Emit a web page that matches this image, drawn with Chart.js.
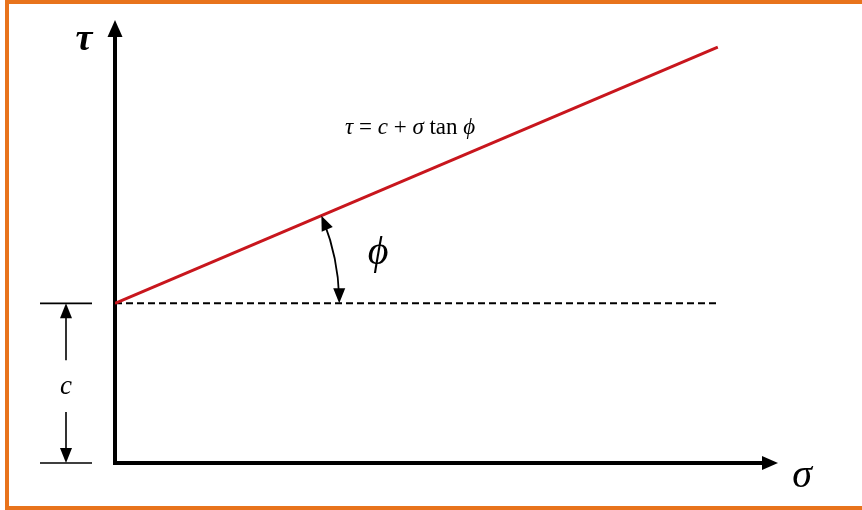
<!DOCTYPE html>
<html>
<head>
<meta charset="utf-8">
<script src="https://cdn.jsdelivr.net/npm/chart.js@4.4.1/dist/chart.umd.min.js"></script>
<style>
  html, body { margin: 0; padding: 0; background: #fff; }
  #wrap { position: relative; width: 862px; height: 510px; overflow: hidden; }
  #frame {
    position: absolute; left: 5px; top: 0; width: 870px; height: 502px;
    border-left: 4px solid #E8731C; border-top: 4px solid #E8731C; border-bottom: 4px solid #E8731C;
  }
  canvas { position: absolute; left: 0; top: 0; }
</style>
</head>
<body>
<div id="wrap">
  <div id="frame"></div>
  <canvas id="mohr" width="862" height="510"></canvas>
</div>
<script>
// failure envelope: tau = c + sigma tan(phi)
const sigmaPts = [0, 10];
const tauPts = [4, 10.42];
const cohesion = 4;
const cohesionLine = [4, 4];
const arcRadius = 3.72; // in sigma units

const serif = "'Liberation Serif', 'DejaVu Serif', serif";
const RED = "#C8161D";

function arrowHead(ctx, x, y, dx, dy, len, half) {
  const n = Math.hypot(dx, dy);
  const ux = dx / n, uy = dy / n;
  ctx.beginPath();
  ctx.moveTo(x, y);
  ctx.lineTo(x - ux * len - uy * half, y - uy * len + ux * half);
  ctx.lineTo(x - ux * len + uy * half, y - uy * len - ux * half);
  ctx.closePath();
  ctx.fill();
}

const sketchPlugin = {
  id: "sketch",
  afterDraw(chart) {
    const { ctx, chartArea: a, scales: { x, y } } = chart;
    ctx.save();
    ctx.fillStyle = "#000";
    ctx.strokeStyle = "#000";

    // axis arrowheads
    arrowHead(ctx, a.left, a.top - 12, 0, -1, 17, 7.5);
    arrowHead(ctx, a.right + 12, a.bottom, 1, 0, 16, 7);

    // axis symbols
    ctx.textAlign = "center";
    ctx.textBaseline = "middle";
    ctx.font = "italic bold 38px " + serif;
    ctx.fillText("τ", a.left - 31, 40);
    ctx.font = "italic 40px " + serif;
    ctx.fillText("σ", a.right + 36, 476);

    // cohesion dimension
    const yc = y.getPixelForValue(cohesion);
    const y0 = y.getPixelForValue(0);
    const ax = a.left - 49;
    ctx.lineWidth = 1.6;
    ctx.beginPath();
    ctx.moveTo(a.left - 75, yc); ctx.lineTo(a.left - 23, yc);
    ctx.moveTo(a.left - 75, y0); ctx.lineTo(a.left - 23, y0);
    ctx.moveTo(ax, yc + 10); ctx.lineTo(ax, yc + 57);
    ctx.moveTo(ax, y0 - 51); ctx.lineTo(ax, y0 - 10);
    ctx.stroke();
    arrowHead(ctx, ax, yc, 0, -1, 15, 6);
    arrowHead(ctx, ax, y0, 0, 1, 15, 6);
    ctx.font = "italic 27px " + serif;
    ctx.fillText("c", ax, (yc + y0) / 2 + 4);

    // friction angle arc
    const cx = x.getPixelForValue(sigmaPts[0]);
    const r = x.getPixelForValue(arcRadius) - cx;
    const ang = Math.atan2(
      y.getPixelForValue(tauPts[0]) - y.getPixelForValue(tauPts[1]),
      x.getPixelForValue(sigmaPts[1]) - x.getPixelForValue(sigmaPts[0])
    );
    ctx.lineWidth = 1.8;
    ctx.beginPath();
    ctx.arc(cx, yc, r, -ang + 0.03, -0.03);
    ctx.stroke();
    arrowHead(ctx, cx + r * Math.cos(ang), yc - r * Math.sin(ang), -Math.sin(ang), -Math.cos(ang), 15, 6);
    arrowHead(ctx, cx + r, yc, 0, 1, 15, 6);
    ctx.font = "italic 40px " + serif;
    ctx.fillText("ϕ", 378, 253);

    // equation
    const parts = [["τ", true], [" = ", false], ["c", true], [" + ", false], ["σ", true], [" tan ", false], ["ϕ", true]];
    ctx.textAlign = "left";
    ctx.textBaseline = "alphabetic";
    let px = 345;
    parts.forEach(([t, it]) => {
      ctx.font = (it ? "italic " : "") + "23px " + serif;
      ctx.fillText(t, px, 134);
      px += ctx.measureText(t).width;
    });
    ctx.restore();
  }
};

new Chart(document.getElementById("mohr"), {
  type: "line",
  data: {
    datasets: [
      {
        data: sigmaPts.map((s, i) => ({ x: s, y: tauPts[i] })),
        borderColor: RED,
        borderWidth: 3,
        pointRadius: 0
      },
      {
        data: sigmaPts.map((s, i) => ({ x: s, y: cohesionLine[i] })),
        borderColor: "#000",
        borderWidth: 2,
        borderDash: [7, 4],
        pointRadius: 0
      }
    ]
  },
  options: {
    responsive: false,
    animation: false,
    layout: { padding: { left: 115, top: 32, right: 96, bottom: 47 } },
    plugins: { legend: { display: false }, tooltip: { enabled: false } },
    scales: {
      x: {
        type: "linear", min: 0, max: 10.8,
        grid: { display: false, drawTicks: false },
        ticks: { display: false },
        border: { display: true, color: "#000", width: 4 },
        afterFit(s) { s.height = 0; }
      },
      y: {
        type: "linear", min: 0, max: 10.8,
        grid: { display: false, drawTicks: false },
        ticks: { display: false },
        border: { display: true, color: "#000", width: 4 },
        afterFit(s) { s.width = 0; }
      }
    }
  },
  plugins: [sketchPlugin]
});
</script>
</body>
</html>
